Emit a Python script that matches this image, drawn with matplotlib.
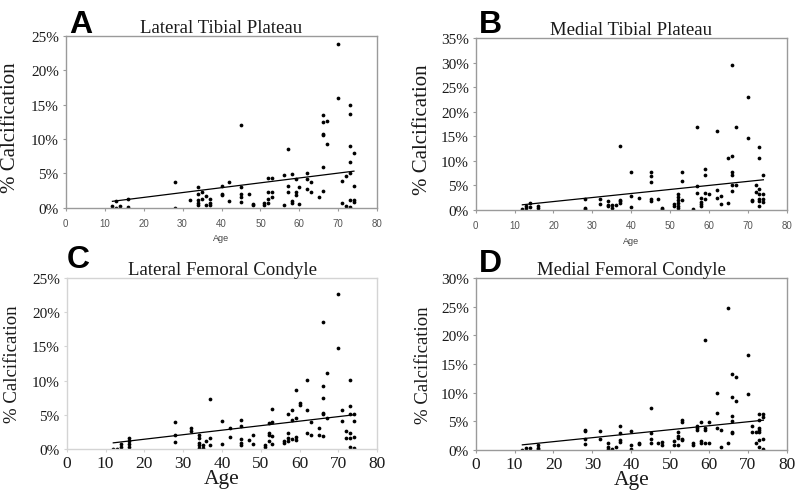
import matplotlib
matplotlib.use("Agg")
import matplotlib.pyplot as plt
from matplotlib.ticker import PercentFormatter

# --- data (age in years, calcification in %) ---
ages_a = [12, 13, 13, 14, 16, 16, 28, 28, 32, 34, 34, 34, 34, 34, 35, 35, 36, 36, 37, 37, 37,
          40, 40, 40, 42, 42, 45, 45, 45, 45, 45, 47, 48, 48, 51, 51, 52, 52, 52, 52,
          53, 53, 53, 56, 56, 57, 57, 57, 58, 58, 58, 59, 59, 59, 60, 60, 62, 62, 62,
          63, 63, 65, 66, 66, 66, 66, 66, 66, 67, 67, 70, 70, 71, 71, 72, 72,
          73, 73, 73, 73, 73, 73, 73, 74, 74, 74, 74]
calc_a = [0.2, 1.0, 0.0, 0.2, 1.2, 0.1, 3.7, 0.0, 1.1, 3.0, 2.0, 1.1, 0.7, 0.3, 2.3, 1.2, 1.7, 0.3, 1.3, 0.6, 0.4,
          3.2, 2.0, 1.8, 3.7, 0.9, 12.0, 3.0, 1.9, 1.5, 0.8, 2.0, 0.5, 0.3, 0.6, 0.4, 4.3, 2.2, 1.2, 0.7,
          4.3, 2.2, 1.6, 4.7, 0.3, 8.5, 3.2, 2.3, 4.9, 1.0, 0.7, 4.2, 2.3, 1.8, 3.0, 0.5, 5.1, 4.2, 2.7,
          3.7, 2.3, 1.5, 13.5, 12.4, 10.7, 10.6, 5.9, 2.4, 12.6, 9.2, 23.8, 16.0, 3.8, 0.6, 4.6, 0.2,
          14.9, 13.7, 9.0, 6.6, 5.1, 1.1, 0.1, 8.0, 3.1, 1.1, 0.8]
trend_a = [0.9, 5.3]

ages_b = [12, 13, 13, 14, 14, 16, 16, 28, 28, 28, 32, 32, 34, 34, 34, 35, 35, 36, 37, 37, 37, 37,
          40, 40, 40, 42, 45, 45, 45, 45, 45, 47, 48, 48, 51, 51, 52, 52, 52, 52, 52, 52,
          53, 53, 53, 56, 57, 57, 57, 58, 58, 58, 58, 59, 59, 59, 59, 60, 62, 62, 62, 63, 63,
          65, 65, 66, 66, 66, 66, 66, 66, 67, 67, 70, 70, 71, 71, 72, 72,
          73, 73, 73, 73, 73, 73, 73, 74, 74, 74, 74]
calc_b = [0.1, 0.7, 0.3, 1.4, 0.5, 0.7, 0.3, 2.2, 0.3, 0.1, 2.2, 1.2, 1.8, 0.9, 0.7, 1.0, 0.3, 0.9, 12.9, 2.0, 1.7, 1.4,
          7.6, 2.7, 0.5, 2.3, 7.6, 6.9, 5.6, 2.2, 1.8, 2.2, 0.3, 0.1, 1.2, 0.7, 3.1, 2.6, 2.0, 1.4, 0.8, 0.3,
          7.6, 5.9, 2.0, 0.1, 16.9, 4.8, 3.5, 2.4, 1.5, 1.2, 0.7, 8.3, 7.1, 3.5, 2.2, 3.3, 16.1, 4.1, 2.3, 2.7, 1.2,
          10.5, 1.4, 29.4, 10.9, 7.7, 7.1, 5.0, 3.9, 16.8, 5.0, 22.9, 14.6, 2.0, 1.7, 5.0, 3.6,
          12.7, 10.5, 4.2, 3.2, 2.2, 1.8, 0.7, 7.0, 3.3, 2.2, 1.6]
trend_b = [1.0, 6.1]

ages_c = [12, 13, 14, 14, 16, 16, 16, 16, 28, 28, 28, 32, 32, 34, 34, 34, 34, 34, 35, 35, 36, 37, 37, 37,
          40, 40, 42, 42, 45, 45, 45, 45, 45, 47, 48, 48, 51, 51, 52, 52, 52, 52,
          53, 53, 53, 53, 56, 56, 57, 57, 57, 57, 58, 58, 58, 59, 59, 59, 59, 60, 60,
          62, 62, 62, 63, 63, 65, 65, 66, 66, 66, 66, 66, 66, 67, 67, 70, 70, 71, 71, 72, 72,
          73, 73, 73, 73, 73, 73, 74, 74, 74, 74]
calc_c = [0.0, 0.0, 0.3, 0.7, 0.3, 0.8, 1.2, 1.6, 4.0, 2.0, 1.0, 3.1, 2.6, 2.0, 1.6, 0.9, 0.6, 0.2, 0.6, 0.2, 1.1, 7.3, 1.6, 0.6,
          4.1, 0.7, 3.0, 1.7, 4.3, 3.3, 1.4, 0.9, 0.6, 1.3, 2.1, 0.7, 0.6, 0.3, 3.8, 2.4, 2.0, 1.2,
          5.8, 3.9, 1.9, 0.8, 1.2, 0.9, 5.1, 2.4, 1.6, 1.2, 5.7, 4.2, 1.4, 8.6, 4.5, 1.7, 1.3, 6.7, 6.5,
          10.1, 5.7, 2.4, 3.9, 2.1, 3.1, 2.1, 18.5, 9.2, 7.5, 5.3, 5.1, 1.9, 11.1, 4.5, 22.6, 14.7, 5.7, 4.1, 2.6, 1.6,
          10.1, 6.3, 5.1, 2.4, 1.6, 0.3, 5.1, 4.1, 1.8, 0.2]
trend_c = [0.9, 5.0]

ages_d = [12, 13, 14, 16, 16, 16, 28, 28, 28, 28, 32, 32, 34, 34, 34, 35, 36, 37, 37, 37, 37,
          40, 40, 40, 42, 42, 45, 45, 45, 45, 47, 48, 48, 51, 51, 52, 52, 52, 52,
          53, 53, 53, 53, 56, 56, 57, 57, 57, 58, 58, 58, 59, 59, 59, 59, 60, 60,
          62, 62, 62, 63, 63, 65, 65, 66, 66, 66, 66, 66, 66, 67, 67, 70, 70, 71, 71, 72, 72,
          73, 73, 73, 73, 73, 73, 73, 74, 74, 74, 74]
calc_d = [0.0, 0.3, 0.3, 0.8, 0.4, 0.1, 3.5, 3.3, 2.0, 1.0, 3.3, 1.9, 1.3, 0.5, 0.2, 0.1, 0.6, 4.2, 2.9, 1.8, 1.4,
          3.3, 0.9, 0.1, 1.2, 1.0, 7.4, 3.0, 1.9, 1.2, 1.2, 1.4, 0.8, 1.6, 0.8, 3.2, 2.5, 2.1, 0.9,
          5.3, 4.8, 2.0, 1.7, 1.2, 0.9, 4.2, 3.8, 3.5, 4.8, 1.6, 1.3, 19.2, 3.8, 3.5, 1.3, 4.8, 1.3,
          9.9, 6.5, 3.9, 3.5, 0.6, 24.7, 1.2, 13.2, 9.2, 6.0, 5.1, 3.2, 3.0, 12.8, 8.6, 16.6, 9.8, 4.1, 3.2, 3.2, 1.3,
          6.3, 5.3, 3.9, 3.5, 3.2, 1.7, 0.5, 6.2, 5.7, 2.0, 0.1]
trend_d = [0.9, 5.2]

trend_ages = [12, 74]
titles = ["Lateral Tibial Plateau", "Medial Tibial Plateau",
          "Lateral Femoral Condyle", "Medial Femoral Condyle"]
letters = ["A", "B", "C", "D"]
ymaxes = [25, 35, 25, 30]
xticks = [0, 10, 20, 30, 40, 50, 60, 70, 80]

SERIF = ["Liberation Serif", "DejaVu Serif"]
SANS = ["Liberation Sans", "DejaVu Sans"]

fig = plt.figure(figsize=(8, 5.02), dpi=100)

# axes boxes in figure pixels: left, top, right, bottom
boxes = [(65.7, 37, 377.3, 208.5), (475.7, 39, 786.7, 210.7),
         (66.7, 279, 377.3, 450), (475.7, 279, 786.7, 451)]
frame_cols = ["#9a9a9a", "#9a9a9a", "#d4d4d4", "#9a9a9a"]
letter_pos = [(69, 33), (479, 33), (67, 268), (479, 272)]
ylab_x = [20, 432, 21, 432]
ylab_size = [15, 15, 13.5, 13.5]

data = [(ages_a, calc_a, trend_a), (ages_b, calc_b, trend_b),
        (ages_c, calc_c, trend_c), (ages_d, calc_d, trend_d)]

W, H = 800, 502
for i, ((ages, calc, trend), (l, t, r, b)) in enumerate(zip(data, boxes)):
    ax = fig.add_axes([l / W, 1 - b / H, (r - l) / W, (b - t) / H])
    ax.plot(ages, calc, 'o', color='black', ms=2.7, mew=0)
    ax.plot(trend_ages, trend, color='black', lw=0.9)
    ax.set_xlim(0, 80)
    ax.set_ylim(0, ymaxes[i])
    ax.set_xticks(xticks)
    ax.set_yticks(range(0, ymaxes[i] + 1, 5))
    ax.yaxis.set_major_formatter(PercentFormatter(decimals=0))
    for s in ax.spines.values():
        s.set_color(frame_cols[i])
        s.set_linewidth(1.0)
    ax.tick_params(axis='both', direction='out', length=2.5, color=frame_cols[i], width=0.8)
    for lab in ax.get_yticklabels():
        lab.set_family(SERIF)
        lab.set_fontsize(11)
        lab.set_color('#1a1a1a')
    ax.tick_params(axis='y', pad=2.5)
    if i < 2:
        for lab in ax.get_xticklabels():
            lab.set_family(SANS)
            lab.set_fontsize(7)
            lab.set_color('#555555')
        ax.tick_params(axis='x', pad=5)
        ax.set_xlabel("Age", family=SANS, fontsize=6.5, color='#444444', labelpad=4)
    else:
        for lab in ax.get_xticklabels():
            lab.set_family(SERIF)
            lab.set_fontsize(12.5)
            lab.set_color('#1a1a1a')
        ax.tick_params(axis='x', pad=1.5)
        ax.set_xlabel("Age", family=SERIF, fontsize=15.5, color='#1a1a1a', labelpad=-1)
    ax.set_ylabel("% Calcification", family=SERIF, fontsize=ylab_size[i], color='#1a1a1a')
    ax.yaxis.set_label_coords((ylab_x[i] - l) / (r - l), 0.47 if i < 2 else 0.5)
    ax.set_title(titles[i], family=SERIF, fontsize=13.5, color='#1a1a1a', pad=3)
    fig.text(letter_pos[i][0] / W, 1 - letter_pos[i][1] / H, letters[i],
             family=SANS, fontweight='bold', fontsize=23, va='baseline', ha='left')

fig.savefig("out.png", dpi=100)
